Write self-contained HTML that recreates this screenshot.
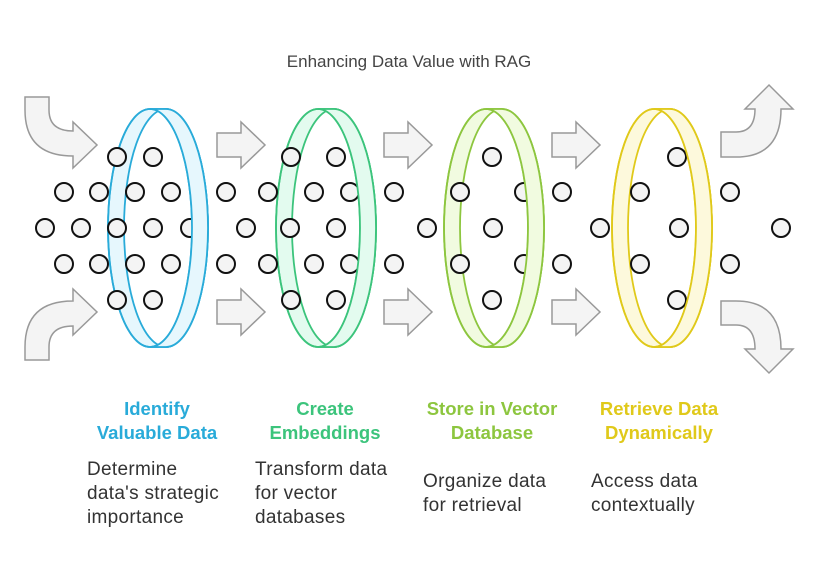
<!DOCTYPE html>
<html><head><meta charset="utf-8"><style>
html,body{margin:0;padding:0;background:#fff;}
svg{display:block;font-family:"Liberation Sans",Arial,sans-serif;}
</style></head><body>
<svg width="818" height="578" viewBox="0 0 818 578" xmlns="http://www.w3.org/2000/svg">
<defs>
<g id="back">
<path d="M-8,109 L8,109 A42,119 0 0 1 8,347 L-8,347 A42,119 0 0 1 -8,109 Z"/>
</g>
</defs>
<text x="409" y="67" text-anchor="middle" font-size="17" fill="#444">Enhancing Data Value with RAG</text>

<g fill="#f4f4f4" stroke="#999" stroke-width="1.5">
<path d="M25,97 L49,97 L49,110 Q49,131 73,131 L73,122 L97,145 L73,168 L73,156 Q25,156 25,110 Z"/>
<path d="M25,360 L49,360 L49,347 Q49,326 73,326 L73,335 L97,312 L73,289 L73,301 Q25,301 25,347 Z"/>
<path d="M721,157 L721,132 L736,132 Q755,132 755,109 L745,109 L769,85 L793,109 L781,109 Q781,157 736,157 Z"/>
<path d="M721,301 L721,325 L736,325 Q755,325 755,349 L745,349 L769,373 L793,349 L781,349 Q781,301 736,301 Z"/>
<path d="M217,133 L241,133 L241,122 L265,145 L241,168 L241,157 L217,157 Z"/>
<path d="M217,300 L241,300 L241,289 L265,312 L241,335 L241,324 L217,324 Z"/>
<path d="M384,133 L408,133 L408,122 L432,145 L408,168 L408,157 L384,157 Z"/>
<path d="M384,300 L408,300 L408,289 L432,312 L408,335 L408,324 L384,324 Z"/>
<path d="M552,133 L576,133 L576,122 L600,145 L576,168 L576,157 L552,157 Z"/>
<path d="M552,300 L576,300 L576,289 L600,312 L576,335 L576,324 L552,324 Z"/>
</g>

<!-- ring backs -->
<g stroke-width="1.8">
<g transform="translate(158,0)" stroke="#29abd9">
<path d="M-8,109 L8,109 A42,119 0 0 1 8,347 L-8,347 A42,119 0 0 1 -8,109 Z" fill="#e6f7fd"/>
<path d="M0,111.2 A42,119 0 0 1 0,344.8 A42,119 0 0 1 0,111.2 Z" fill="#fff" stroke="none"/>
<ellipse cx="-8" cy="228" rx="42" ry="119" fill="none"/>
<ellipse cx="8" cy="228" rx="42" ry="119" fill="none"/>
</g>
<g transform="translate(326,0)" stroke="#3cc47c">
<path d="M-8,109 L8,109 A42,119 0 0 1 8,347 L-8,347 A42,119 0 0 1 -8,109 Z" fill="#e3fbef"/>
<path d="M0,111.2 A42,119 0 0 1 0,344.8 A42,119 0 0 1 0,111.2 Z" fill="#fff" stroke="none"/>
<ellipse cx="-8" cy="228" rx="42" ry="119" fill="none"/>
<ellipse cx="8" cy="228" rx="42" ry="119" fill="none"/>
</g>
<g transform="translate(494,0)" stroke="#8dc63f">
<path d="M-8,109 L8,109 A42,119 0 0 1 8,347 L-8,347 A42,119 0 0 1 -8,109 Z" fill="#f1fbe0"/>
<path d="M0,111.2 A42,119 0 0 1 0,344.8 A42,119 0 0 1 0,111.2 Z" fill="#fff" stroke="none"/>
<ellipse cx="-8" cy="228" rx="42" ry="119" fill="none"/>
<ellipse cx="8" cy="228" rx="42" ry="119" fill="none"/>
</g>
<g transform="translate(662,0)" stroke="#e0c91a">
<path d="M-8,109 L8,109 A42,119 0 0 1 8,347 L-8,347 A42,119 0 0 1 -8,109 Z" fill="#fdf9dc"/>
<path d="M0,111.2 A42,119 0 0 1 0,344.8 A42,119 0 0 1 0,111.2 Z" fill="#fff" stroke="none"/>
<ellipse cx="-8" cy="228" rx="42" ry="119" fill="none"/>
<ellipse cx="8" cy="228" rx="42" ry="119" fill="none"/>
</g>
</g>

<g fill="#f4f4f4" stroke="#111" stroke-width="2">
<circle cx="117" cy="157" r="9"/><circle cx="153" cy="157" r="9"/>
<circle cx="291" cy="157" r="9"/><circle cx="336" cy="157" r="9"/>
<circle cx="492" cy="157" r="9"/><circle cx="677" cy="157" r="9"/>
<circle cx="64" cy="192" r="9"/><circle cx="99" cy="192" r="9"/><circle cx="135" cy="192" r="9"/><circle cx="171" cy="192" r="9"/>
<circle cx="226" cy="192" r="9"/><circle cx="268" cy="192" r="9"/><circle cx="314" cy="192" r="9"/><circle cx="350" cy="192" r="9"/>
<circle cx="394" cy="192" r="9"/><circle cx="460" cy="192" r="9"/><circle cx="524" cy="192" r="9"/><circle cx="562" cy="192" r="9"/>
<circle cx="640" cy="192" r="9"/><circle cx="730" cy="192" r="9"/>
<circle cx="45" cy="228" r="9"/><circle cx="81" cy="228" r="9"/><circle cx="117" cy="228" r="9"/><circle cx="153" cy="228" r="9"/><circle cx="190" cy="228" r="9"/>
<circle cx="246" cy="228" r="9"/><circle cx="290" cy="228" r="9"/><circle cx="336" cy="228" r="9"/>
<circle cx="427" cy="228" r="9"/><circle cx="493" cy="228" r="9"/>
<circle cx="600" cy="228" r="9"/><circle cx="679" cy="228" r="9"/><circle cx="781" cy="228" r="9"/>
<circle cx="64" cy="264" r="9"/><circle cx="99" cy="264" r="9"/><circle cx="135" cy="264" r="9"/><circle cx="171" cy="264" r="9"/>
<circle cx="226" cy="264" r="9"/><circle cx="268" cy="264" r="9"/><circle cx="314" cy="264" r="9"/><circle cx="350" cy="264" r="9"/>
<circle cx="394" cy="264" r="9"/><circle cx="460" cy="264" r="9"/><circle cx="524" cy="264" r="9"/><circle cx="562" cy="264" r="9"/>
<circle cx="640" cy="264" r="9"/><circle cx="730" cy="264" r="9"/>
<circle cx="117" cy="300" r="9"/><circle cx="153" cy="300" r="9"/>
<circle cx="291" cy="300" r="9"/><circle cx="336" cy="300" r="9"/>
<circle cx="492" cy="300" r="9"/><circle cx="677" cy="300" r="9"/>
</g>

<!-- front right crescents -->
<g stroke-width="1.8">
<path transform="translate(158,0)" d="M-8,109 L8,109 A42,119 0 0 1 8,347 L-8,347 A42,119 0 0 0 -8,109 Z" fill="#e6f7fd" stroke="#29abd9"/>
<path transform="translate(326,0)" d="M-8,109 L8,109 A42,119 0 0 1 8,347 L-8,347 A42,119 0 0 0 -8,109 Z" fill="#e3fbef" stroke="#3cc47c"/>
<path transform="translate(494,0)" d="M-8,109 L8,109 A42,119 0 0 1 8,347 L-8,347 A42,119 0 0 0 -8,109 Z" fill="#f1fbe0" stroke="#8dc63f"/>
<path transform="translate(662,0)" d="M-8,109 L8,109 A42,119 0 0 1 8,347 L-8,347 A42,119 0 0 0 -8,109 Z" fill="#fdf9dc" stroke="#e0c91a"/>
</g>

<g font-size="18.5" font-weight="bold" text-anchor="middle">
<text x="157" y="415" fill="#29abd9">Identify</text>
<text x="157" y="439" fill="#29abd9">Valuable Data</text>
<text x="325" y="415" fill="#3cc47c">Create</text>
<text x="325" y="439" fill="#3cc47c">Embeddings</text>
<text x="492" y="415" fill="#8dc63f">Store in Vector</text>
<text x="492" y="439" fill="#8dc63f">Database</text>
<text x="659" y="415" fill="#e0c91a">Retrieve Data</text>
<text x="659" y="439" fill="#e0c91a">Dynamically</text>
</g>
<g font-size="19" fill="#333" letter-spacing="0.3">
<text x="87" y="475">Determine</text>
<text x="87" y="499">data's strategic</text>
<text x="87" y="523">importance</text>
<text x="255" y="475">Transform data</text>
<text x="255" y="499">for vector</text>
<text x="255" y="523">databases</text>
<text x="423" y="487">Organize data</text>
<text x="423" y="511">for retrieval</text>
<text x="591" y="487">Access data</text>
<text x="591" y="511">contextually</text>
</g>
</svg>
</body></html>
